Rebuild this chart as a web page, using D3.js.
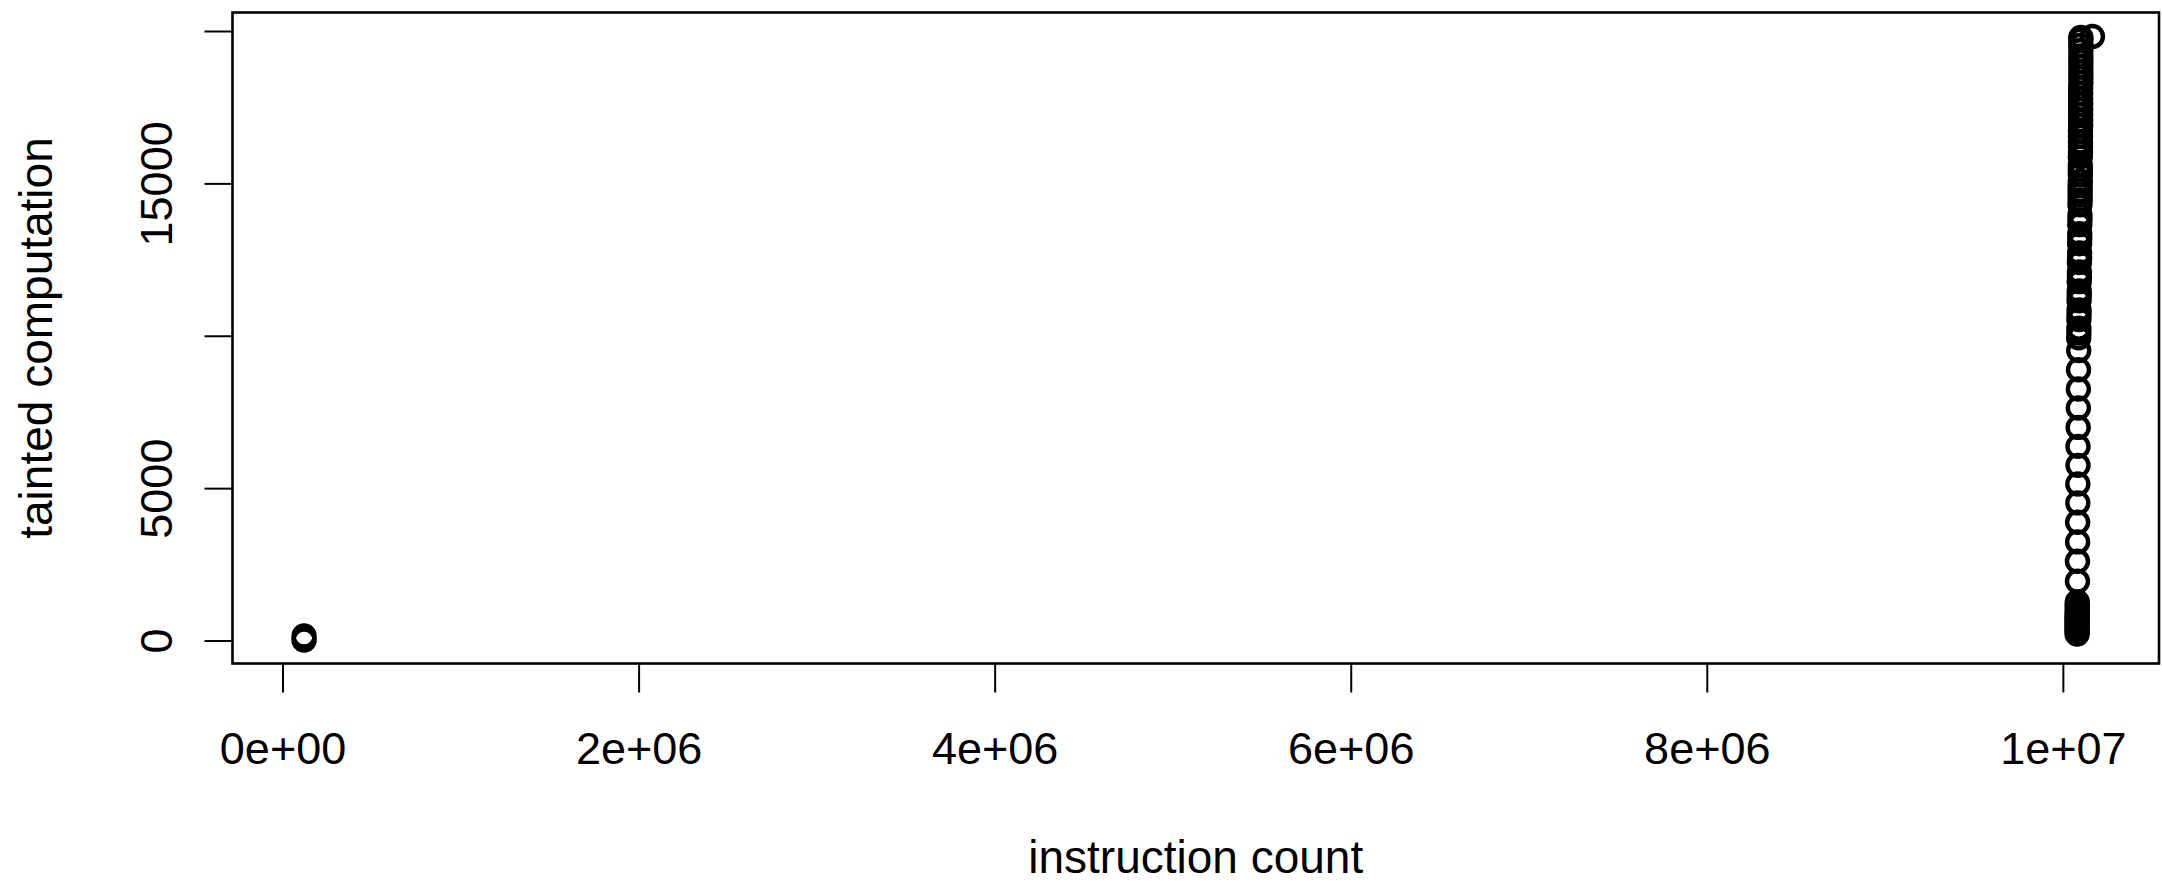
<!DOCTYPE html>
<html>
<head>
<meta charset="utf-8">
<script src="https://cdn.jsdelivr.net/npm/d3@7/dist/d3.min.js"></script>
<style>
  html, body { margin: 0; padding: 0; background: #fff; }
  svg { display: block; font-family: "Liberation Sans", Arial, Helvetica, sans-serif; }
</style>
</head>
<body>
<svg id="chart" width="2162" height="884"></svg>
<script>
// points before the burst (instruction count, tainted computation)
const earlyPoints = [
  [121000, 16],
  [121000, 148]
];

// the burst near 1e7: solid block at the bottom, rings, then solid top
const burstPoints = [
  [10080000, 213], [10080000, 295], [10080000, 372], [10080000, 455],
  [10080000, 530], [10080000, 612], [10080000, 694], [10080000, 770],
  [10080000, 851], [10081000, 933], [10081000, 1010], [10081000, 1092],
  [10081000, 1175], [10081000, 1262],
  [10082000, 1944], [10082000, 2600], [10083000, 3236], [10083000, 3879],
  [10084000, 4515], [10084000, 5138], [10085000, 5748], [10085000, 6370],
  [10086000, 6993], [10087000, 7630], [10087000, 8252], [10088000, 8885],
  [10089000, 9518],
  [10089000, 9930], [10090000, 10089], [10090000, 10250],
  [10090000, 10530], [10091000, 10689], [10091000, 10850],
  [10091000, 11150], [10092000, 11311], [10092000, 11470],
  [10092000, 11775], [10093000, 11934], [10093000, 12095],
  [10093000, 12400], [10094000, 12557], [10094000, 12720],
  [10094000, 13020], [10095000, 13180], [10095000, 13345],
  [10095000, 13645], [10096000, 13803], [10096000, 13965],
  [10096000, 14300], [10097000, 14459], [10097000, 14620],
  [10097000, 14760], [10097000, 14918], [10098000, 15080],
  [10098000, 15285], [10098000, 15443], [10098000, 15605],
  [10098000, 15870], [10099000, 16033], [10099000, 16195],
  [10099000, 16360], [10099000, 16540], [10099000, 16710], [10100000, 16890],
  [10100000, 17060], [10100000, 17250], [10100000, 17420], [10100000, 17600],
  [10100000, 17770], [10100000, 17950], [10100000, 18130], [10101000, 18300],
  [10101000, 18480], [10101000, 18650], [10101000, 18830], [10101000, 19010],
  [10101000, 19180], [10101000, 19360], [10101000, 19530], [10101000, 19700],
  [10101000, 19787],
  [10166000, 19820]
];

const xTicks = [0, 2e6, 4e6, 6e6, 8e6, 1e7];
const xTickLabels = ["0e+00", "2e+06", "4e+06", "6e+06", "8e+06", "1e+07"];
const yTicks = [0, 5000, 10000, 15000, 20000];
const yTickLabels = ["0", "5000", "", "15000", ""];

const xTitle = "instruction count";
const yTitle = "tainted computation";

// plot box (R-style, 4% padding around the data)
const box = { left: 232.5, right: 2159, top: 12.5, bottom: 663.5 };

const x = d3.scaleLinear().domain([-281000, 10540000]).range([box.left, box.right]);
const y = d3.scaleLinear().domain([-754, 20607]).range([box.bottom, box.top]);

const svg = d3.select('#chart');

// x axis
const xAxis = svg.append('g')
  .attr('transform', `translate(0,${box.bottom})`)
  .call(d3.axisBottom(x)
    .tickValues(xTicks)
    .tickFormat((d, i) => xTickLabels[i])
    .tickSize(29)
    .tickSizeOuter(0)
    .tickPadding(40));
xAxis.select('.domain').remove();
xAxis.selectAll('.tick line').attr('stroke', '#000').attr('stroke-width', 2);
xAxis.selectAll('.tick text')
  .attr('fill', '#000')
  .style('font-size', '45px')
  .attr('dy', '0.71em');

// y axis, labels rotated like R's default las = 0
const yAxis = svg.append('g')
  .attr('transform', `translate(${box.left},0)`)
  .call(d3.axisLeft(y)
    .tickValues(yTicks)
    .tickFormat((d, i) => yTickLabels[i])
    .tickSize(28)
    .tickSizeOuter(0));
yAxis.select('.domain').remove();
yAxis.selectAll('.tick line').attr('stroke', '#000').attr('stroke-width', 2);
yAxis.selectAll('.tick text')
  .attr('fill', '#000')
  .style('font-size', '45px')
  .attr('x', null)
  .attr('dy', null)
  .attr('text-anchor', 'middle')
  .attr('transform', 'translate(-60.5,0) rotate(-90)');

// box around the plot region
svg.append('rect')
  .attr('x', box.left)
  .attr('y', box.top)
  .attr('width', box.right - box.left)
  .attr('height', box.bottom - box.top)
  .attr('fill', 'none')
  .attr('stroke', '#000')
  .attr('stroke-width', 2.6);

// points, open circles (pch = 1)
const allPoints = earlyPoints.concat(burstPoints);
svg.append('g')
  .selectAll('circle')
  .data(allPoints)
  .enter()
  .append('circle')
  .attr('cx', d => x(d[0]))
  .attr('cy', d => y(d[1]))
  .attr('r', 10.5)
  .attr('fill', 'none')
  .attr('stroke', '#000')
  .attr('stroke-width', 4.4);

// axis titles
svg.append('text')
  .attr('x', (box.left + box.right) / 2)
  .attr('y', 873)
  .attr('text-anchor', 'middle')
  .style('font-size', '46px')
  .text(xTitle);

svg.append('text')
  .attr('text-anchor', 'middle')
  .attr('transform', `translate(52,${(box.top + box.bottom) / 2}) rotate(-90)`)
  .style('font-size', '46px')
  .text(yTitle);
</script>
</body>
</html>
